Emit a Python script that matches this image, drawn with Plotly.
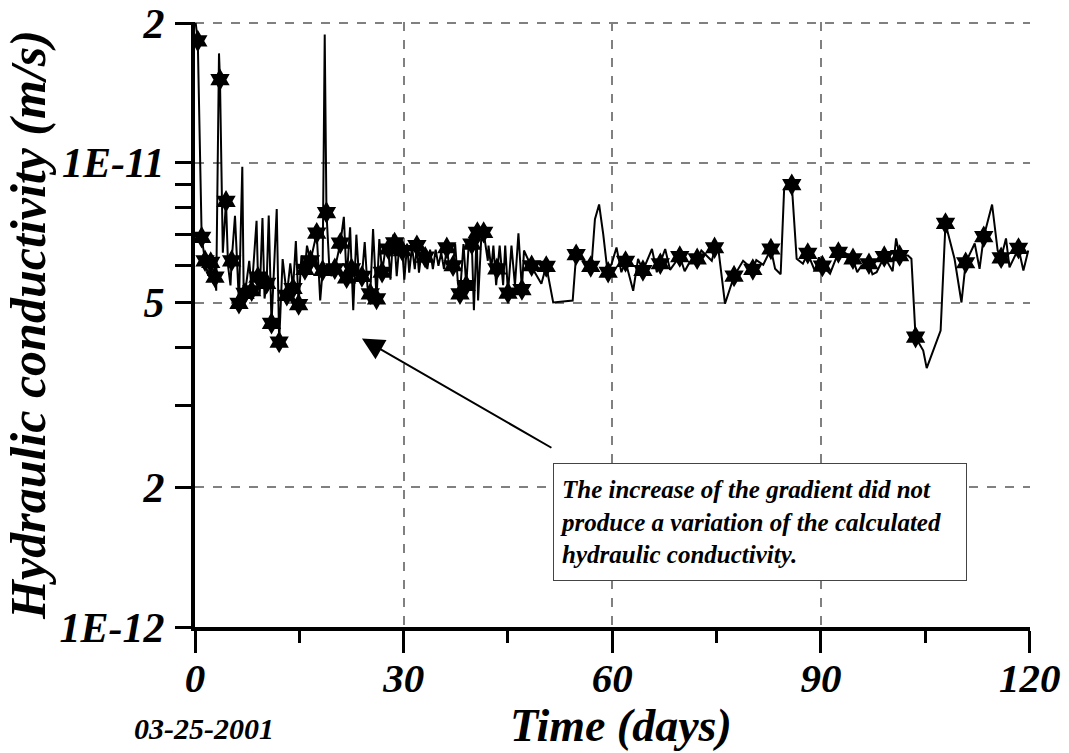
import math
import plotly.graph_objects as go

# Hydraulic conductivity in units of 1E-12 m/s, time in days
days_line = [
    0.1, 0.4, 0.96, 1.44, 1.9, 2.26, 2.6, 2.87, 3.05, 3.45, 3.59, 4.0, 4.46, 4.75, 5.1, 5.27, 5.75,
    6.32, 6.8, 7.0, 7.19, 7.8, 8.15, 8.85, 9.05, 9.3, 9.7, 10.0, 10.3, 10.6, 11.0, 11.75, 12.1, 12.6,
    13.2, 13.7, 14.1, 14.5, 14.9, 15.3, 15.8, 16.1, 16.6, 17.5, 18.0, 18.35, 18.65, 18.9,
    19.3, 19.6, 20.1, 20.5, 20.9, 21.4, 21.8, 22.3, 22.5, 22.75, 23.2, 23.6, 24.0, 24.4, 24.8, 25.2,
    25.6, 26.1, 26.5, 26.9, 27.3, 27.8, 28.1, 28.5, 28.7, 29.0, 29.4, 29.8, 30.1, 30.5, 30.8, 31.2,
    31.6, 31.9, 32.2, 32.6, 33.1, 33.4, 33.8, 34.2, 34.6, 35.0, 35.4, 35.8, 36.2, 36.6, 37.1, 37.4,
    37.8, 38.1, 38.6, 39.0, 39.4, 39.8, 40.1, 40.5, 40.7, 41.2, 41.5, 42.1, 42.2, 42.6, 42.9, 43.3,
    43.8, 44.3, 44.6, 45.0, 45.5, 46.0, 46.5, 47.0, 47.3, 48.3, 49.8, 50.5,
    51.5, 54.3, 54.8, 57.0, 57.5, 58.1, 58.7, 59.3, 59.9, 60.6, 61.3, 61.9, 63.0, 63.7, 64.4, 65.7,
    66.4, 66.8, 67.6, 68.3, 69.7, 70.4, 71.1, 72.2, 72.8, 74.3, 74.8, 75.3, 76.2, 77.5, 78.8, 80.2,
    80.7, 81.7, 82.8, 83.4, 84.2, 84.7, 85.8, 86.5, 87.4, 88.1, 89.1, 89.7, 90.1, 90.3, 91.3, 92.5,
    93.4, 94.6, 95.2, 95.8, 96.9, 97.4, 98.0, 99.1, 100.3, 100.8, 101.3, 102.5, 103.0, 103.6, 104.7,
    105.2, 107.2, 107.9, 109.2, 110.2, 110.8, 112.1, 112.8, 113.4, 114.6, 115.4, 115.9, 116.6, 117.1,
    118.4, 119.1, 119.8,
]
k_line = [
    20.0, 18.3, 6.91, 6.15, 5.71, 6.10, 5.5, 5.67, 5.30, 17.2, 15.1, 6.4, 8.26, 6.0, 5.44, 6.15, 7.69,
    4.98, 9.8, 5.2, 5.23, 6.15, 5.3, 7.5, 5.67, 5.2, 7.6, 5.1, 5.5, 7.7, 4.51, 7.95, 4.11, 6.2,
    5.18, 6.07, 5.36, 6.78, 4.95, 6.31, 5.89, 6.63, 6.15, 7.05, 5.05, 5.86, 18.9, 7.81,
    6.0, 5.7, 5.91, 6.3, 6.71, 7.65, 5.6, 7.26, 5.91, 4.81, 7.0, 5.6, 5.69, 6.75, 5.4, 5.22,
    7.2, 5.09, 6.85, 5.81, 6.4, 6.52, 5.6, 7.0, 6.72, 5.7, 6.7, 6.47, 5.6, 6.7, 5.8, 6.6,
    5.9, 6.63, 5.8, 6.5, 6.26, 5.9, 6.5, 5.9, 6.5, 6.0, 6.4, 5.9, 6.56, 5.9, 6.0, 6.7,
    5.5, 5.22, 6.68, 5.44, 6.85, 6.68, 4.81, 7.08, 5.05, 7.08, 7.08, 6.15, 6.63, 5.91, 6.63, 5.45,
    6.63, 5.45, 6.63, 5.24, 6.63, 5.44, 7.05, 5.33, 6.47, 6.0, 5.49, 6.0,
    5.0, 5.05, 6.34, 5.98, 7.56, 8.13, 7.0, 5.84, 6.06, 6.57, 5.81, 6.13, 5.30, 6.21, 5.86, 6.52,
    5.81, 6.03, 6.52, 5.88, 6.29, 5.84, 6.10, 6.19, 6.47, 6.15, 6.56, 6.42, 4.97, 5.70, 6.15, 5.89,
    6.17, 6.03, 6.52, 5.91, 5.75, 8.77, 8.97, 6.21, 6.06, 6.38, 5.86, 6.26, 6.0, 5.98, 5.77, 6.41,
    6.41, 6.21, 5.81, 6.0, 6.06, 5.75, 5.81, 6.28, 5.84, 6.87, 6.31, 6.31, 6.21, 4.21, 3.94,
    3.61, 4.35, 7.40, 6.21, 5.0, 6.09, 6.70, 5.91, 6.93, 8.13, 6.47, 6.24, 6.87, 5.95,
    6.54, 5.86, 6.47,
]

days_star = [
    0.4, 0.96, 1.44, 2.26, 2.87, 3.59, 4.46, 5.27, 6.32, 7.19, 8.15, 9.05, 10.3, 11.0, 12.1, 13.2,
    14.1, 14.9, 15.8, 16.6, 17.5, 18.35, 18.9, 20.1, 20.9, 21.8, 22.5, 24.0, 25.2, 26.1, 26.9, 27.8,
    28.7, 29.8, 31.9, 33.1, 36.2, 37.1, 38.1, 39.0, 39.8, 40.6, 41.5, 43.4, 45.0, 47.0, 48.4, 50.5,
    54.8, 56.9, 59.4, 61.9, 64.4, 66.9, 69.7, 72.2, 74.7, 77.5, 80.2, 82.8, 85.8, 88.1, 90.2, 92.5,
    94.6, 96.9, 99.1, 101.3, 103.6, 107.9, 110.8, 113.4, 115.9, 118.4,
]
k_star = [
    18.3, 6.91, 6.15, 6.10, 5.67, 15.1, 8.26, 6.15, 4.98, 5.23, 5.3, 5.67, 5.5, 4.51, 4.11, 5.18,
    5.36, 4.95, 5.89, 6.15, 7.05, 5.86, 7.81, 5.91, 6.71, 5.65, 5.91, 5.69, 5.22, 5.09, 5.81, 6.52,
    6.72, 6.47, 6.63, 6.26, 6.56, 6.0, 5.22, 5.44, 6.68, 7.08, 7.08, 5.91, 5.24, 5.33, 6.0, 5.98,
    6.34, 5.98, 5.81, 6.13, 5.86, 6.06, 6.28, 6.21, 6.56, 5.70, 5.89, 6.52, 8.97, 6.38, 5.99, 6.41,
    6.21, 6.06, 6.28, 6.31, 4.21, 7.40, 6.09, 6.93, 6.24, 6.54,
]

x_ticks = [0, 30, 60, 90, 120]
x_minor = [15, 45, 75, 105]
y_ticks = [1, 2, 5, 10, 20]
y_ticktext = ["1E-12", "2", "5", "1E-11", "2"]
y_minor = [3, 4, 6, 7, 8, 9]

FONT = "Liberation Serif, Times New Roman, serif"

fig = go.Figure()
fig.add_trace(go.Scatter(x=days_line, y=k_line, mode="lines",
                         line=dict(color="black", width=2), hoverinfo="skip"))
fig.add_trace(go.Scatter(x=days_star, y=k_star, mode="markers",
                         marker=dict(symbol="hexagram", size=17, color="black",
                                     line=dict(width=0))))

bold_it = lambda s: dict(family=FONT, size=s, color="black", weight="bold", style="italic")

fig.update_layout(
    width=1069, height=753,
    margin=dict(l=195, r=39, t=22, b=126),
    paper_bgcolor="white", plot_bgcolor="white",
    showlegend=False,
    xaxis=dict(
        range=[0, 120.05], tickvals=x_ticks, ticks="outside", ticklen=22, tickwidth=3,
        tickcolor="black", showline=True, linewidth=4, linecolor="black",
        showgrid=True, gridcolor="#808080", griddash="dash", gridwidth=1.5,
        zeroline=False, tickfont=bold_it(41), ticklabelstandoff=-10, automargin=False,
        minor=dict(tickvals=x_minor, ticks="outside", ticklen=12, tickwidth=3,
                   tickcolor="black", showgrid=False),
    ),
    yaxis=dict(
        type="log", range=[0, math.log10(20.1)], tickvals=y_ticks, ticktext=y_ticktext,
        ticks="outside", ticklen=16, tickwidth=3, tickcolor="black",
        showline=True, linewidth=4, linecolor="black",
        showgrid=True, gridcolor="#808080", griddash="dash", gridwidth=1.5,
        zeroline=False, tickfont=bold_it(42), ticklabelstandoff=2, automargin=False,
        minor=dict(tickvals=y_minor, ticks="outside", ticklen=16, tickwidth=3,
                   tickcolor="black", showgrid=False),
        title=dict(text="Hydraulic conductivity (m/s)", font=bold_it(50), standoff=4),
    ),
)

fig.add_annotation(
    xref="paper", yref="paper", x=0.51, y=-0.163, text="Time (days)",
    showarrow=False, font=bold_it(46), xanchor="center", yanchor="middle",
)

fig.add_annotation(
    xref="paper", yref="paper", x=0.011, y=-0.168, text="03-25-2001",
    showarrow=False, font=bold_it(30), xanchor="center", yanchor="middle",
)

fig.add_annotation(
    x=24.0, y=math.log10(4.18), xref="x", yref="y", text="",
    showarrow=True, arrowhead=2, arrowsize=2.2, arrowwidth=2, arrowcolor="black",
    ax=191, ay=110,
)

fig.add_annotation(
    xref="paper", yref="paper", x=0.677, y=0.174,
    text="The increase of the gradient did not<br>produce a variation of the calculated<br>hydraulic conductivity.",
    showarrow=False, align="left", font=bold_it(25),
    bordercolor="#444", borderwidth=1, borderpad=6, bgcolor="white",
    width=400, height=104, xanchor="center", yanchor="middle",
)

fig.write_html("out.html")
